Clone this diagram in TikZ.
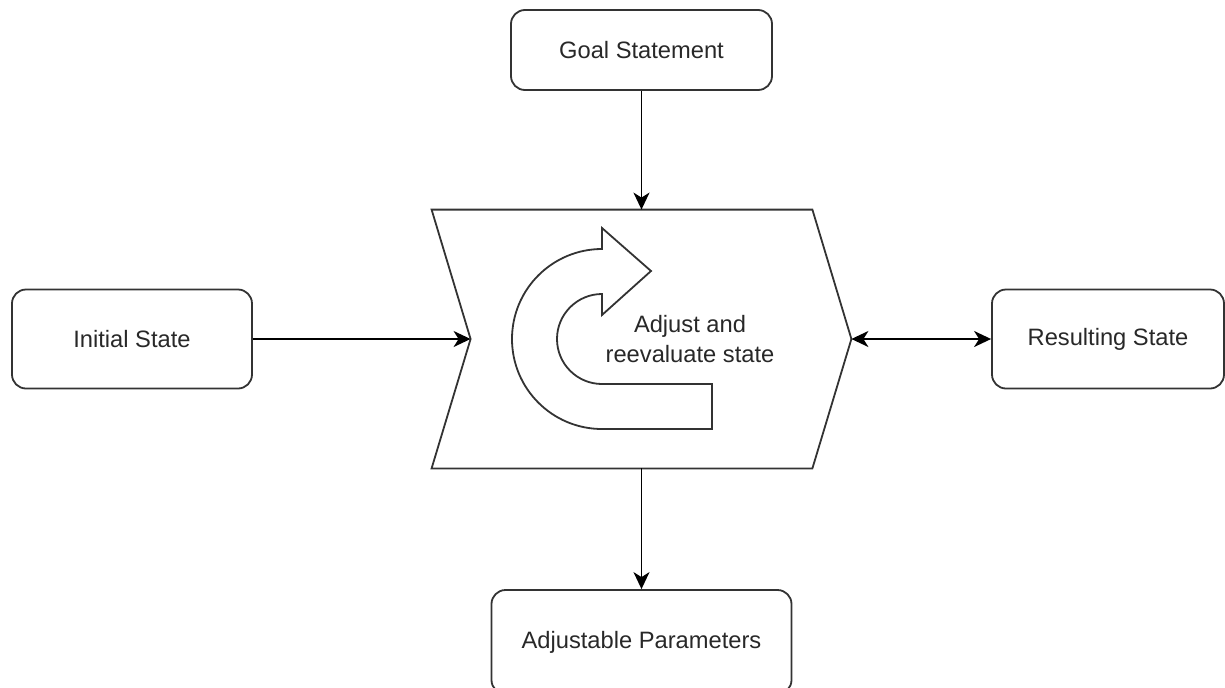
\documentclass[tikz,border=0pt]{standalone}
\usepackage{fontspec}
\setmainfont{Liberation Sans}
\usepackage{xcolor}
\usetikzlibrary{arrows.meta,positioning}
\definecolor{outlinegray}{RGB}{51,51,51}
\definecolor{labelgray}{RGB}{40,40,40}

\begin{document}
\begin{tikzpicture}[auto, font=\fontsize{11.85pt}{14.8pt}\selectfont,
  box/.style={rectangle, draw=outlinegray, line width=0.9pt, rounded corners=7pt, text=labelgray, minimum height=49.5pt, text centered},
  chevron/.style={rectangle, minimum width=209.5pt, minimum height=129pt, inner sep=0pt},
  outline/.style={draw=outlinegray, line width=0.9pt},
  arrow/.style={line width=0.9pt,->,>={Stealth[length=8.5pt,width=8pt,inset=2.5pt]}}]

  \useasboundingbox (-320.75pt,-174pt) rectangle (291.75pt,169.5pt);

  \node [chevron] (adjust) at (0,0) {};
  \node [box, minimum width=130.5pt, minimum height=40pt, above of=adjust, node distance=144.5pt] (goal) {Goal Statement};
  \node [box, minimum width=150pt, minimum height=52pt, below of=adjust, node distance=151.5pt] (params) {Adjustable Parameters};
  \node [box, minimum width=120pt, left of=adjust, node distance=254.75pt] (init) {Initial State};
  \node [box, minimum width=116pt, right of=adjust, node distance=233.25pt] (result) {Resulting State};

  % step shape around the adjust node
  \draw [outline] (adjust.north west) -- ([xshift=-19.5pt]adjust.north east) -- (adjust.east)
    -- ([xshift=-19.5pt]adjust.south east) -- (adjust.south west) -- ([xshift=19.5pt]adjust.west) -- cycle;
  \coordinate (notch) at ([xshift=19.5pt]adjust.west);

  % curved arrow icon
  \draw [outline, shift={(-19.75pt,0pt)}] (0pt,-45pt) -- (55pt,-45pt) -- (55pt,-22.5pt) -- (0pt,-22.5pt)
    arc[start angle=270, end angle=90, radius=22.5pt] -- (0pt,12pt) -- (24.5pt,34pt) -- (0pt,55.5pt)
    -- (0pt,45pt) arc[start angle=90, end angle=270, radius=45pt] -- cycle;
  \node [text=labelgray, align=center] (label) at ([xshift=24.25pt]adjust.center) {Adjust and\\reevaluate state};

  \draw [arrow] (goal) -- (adjust.north);
  \draw [arrow] (adjust.south) -- (params);
  \draw [arrow] (init) -- (notch);
  \draw [arrow, <->] (adjust.east) -- (result);
\end{tikzpicture}
\end{document}
